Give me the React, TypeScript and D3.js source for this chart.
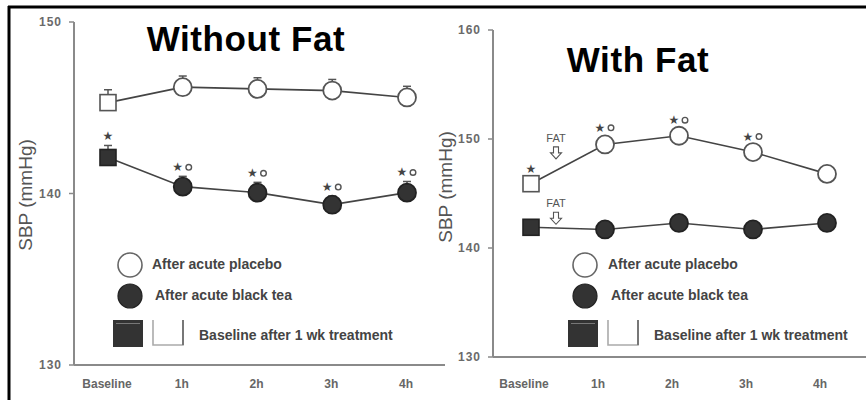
import React from "react";
import * as d3 from "d3";

const categories = ["Baseline", "1h", "2h", "3h", "4h"];

const noFatPlacebo = [145.3, 146.2, 146.1, 146.0, 145.6];
const noFatPlaceboErr = [0.75, 0.65, 0.65, 0.65, 0.65];
const noFatTea = [142.1, 140.4, 140.05, 139.35, 140.05];
const noFatTeaErr = [0.7, 0.6, 0.6, 0.5, 0.65];
const noFatTeaMarks = ["*", "*o", "*o", "*o", "*o"];
const noFatPlaceboMarks = ["", "", "", "", ""];
const noFatTicks = [130, 140, 150];

const fatPlacebo = [145.9, 149.5, 150.3, 148.8, 146.8];
const fatPlaceboErr = [0.5, 0.7, 0.6, 0.6, 0.4];
const fatPlaceboMarks = ["*", "*o", "*o", "*o", ""];
const fatTea = [141.9, 141.7, 142.3, 141.7, 142.3];
const fatTeaErr = [0.4, 0.4, 0.4, 0.4, 0.4];
const fatTeaMarks = ["", "", "", "", ""];
const fatTicks = [130, 140, 150, 160];

const legendLabels = ["After acute placebo", "After acute black tea", "Baseline after 1 wk treatment"];
const yTitle = "SBP (mmHg)";

const FONT = "'Liberation Sans', Arial, Helvetica, sans-serif";

type PanelProps = {
  title: string;
  titleX: number;
  titleY: number;
  axisX: number;
  axisTop: number;
  axisBottom: number;
  axisRight: number;
  xFirst: number;
  xLast: number;
  labelShift: number;
  domain: [number, number];
  ticks: number[];
  placebo: number[];
  placeboErr: number[];
  placeboMarks: string[];
  tea: number[];
  teaErr: number[];
  teaMarks: string[];
  yTitleX: number;
  yTitleY: number;
  legendX: number;
  legendTextX: number[];
  fat?: boolean;
};

function Marks({ x, y, mark }: { x: number; y: number; mark: string }) {
  if (!mark) return null;
  if (mark === "*") {
    return (
      <text x={x} y={y} textAnchor="middle" dominantBaseline="central" fontSize={12} fill="#444" fontFamily="'DejaVu Sans', sans-serif">★</text>
    );
  }
  return (
    <g>
      <text x={x - 5} y={y} textAnchor="middle" dominantBaseline="central" fontSize={12} fill="#444" fontFamily="'DejaVu Sans', sans-serif">★</text>
      <circle cx={x + 6} cy={y} r={2.8} fill="none" stroke="#555" strokeWidth={1.4} />
    </g>
  );
}

function FatArrow({ x, y }: { x: number; y: number }) {
  return (
    <g>
      <text x={x} y={y} textAnchor="middle" dominantBaseline="central" fontSize={11} fill="#555" fontFamily={FONT}>FAT</text>
      <path
        d={`M${x - 2.5},${y + 9} h5 v6 h3 l-5.5,6 l-5.5,-6 h3 z`}
        fill="white"
        stroke="#555"
        strokeWidth={1.1}
      />
    </g>
  );
}

function Panel(p: PanelProps) {
  const x = d3.scalePoint<string>().domain(categories).range([p.xFirst, p.xLast]);
  const y = d3.scaleLinear().domain(p.domain).range([p.axisBottom, p.axisTop]);
  const line = d3
    .line<number>()
    .x((_, i) => x(categories[i]) as number)
    .y((d) => y(d));

  const errBars = (vals: number[], errs: number[], key: string) =>
    vals.map((v, i) => {
      const cx = x(categories[i]) as number;
      const top = y(v + errs[i]);
      return (
        <g key={key + i}>
          <line x1={cx} x2={cx} y1={y(v)} y2={top} stroke="#555" strokeWidth={1.5} />
          <line x1={cx - 4} x2={cx + 4} y1={top} y2={top} stroke="#555" strokeWidth={1.5} />
        </g>
      );
    });

  const markers = (vals: number[], filled: boolean, key: string) =>
    vals.map((v, i) => {
      const cx = x(categories[i]) as number;
      const cy = y(v);
      if (i === 0) {
        return (
          <rect key={key + i} x={cx - 8} y={cy - 8} width={16} height={16}
            fill={filled ? "#333" : "white"} stroke={filled ? "#222" : "#555"} strokeWidth={1.6} />
        );
      }
      return (
        <circle key={key + i} cx={cx} cy={cy} r={9}
          fill={filled ? "#333" : "white"} stroke={filled ? "#222" : "#555"} strokeWidth={1.8} />
      );
    });

  const marks = (vals: number[], errs: number[], ms: string[], key: string) =>
    vals.map((v, i) => (
      <Marks key={key + i} x={x(categories[i]) as number} y={y(v + errs[i]) - 9} mark={ms[i]} />
    ));

  const lx = p.legendX;
  return (
    <g>
      <text x={p.titleX} y={p.titleY} textAnchor="middle" fontFamily={FONT} fontWeight="bold" fontSize={35} letterSpacing={0.6} fill="#000">{p.title}</text>
      {/* axes */}
      <line x1={p.axisX} x2={p.axisX} y1={p.axisTop} y2={p.axisBottom} stroke="#8a8a8a" strokeWidth={2} />
      <line x1={p.axisX} x2={p.axisRight} y1={p.axisBottom} y2={p.axisBottom} stroke="#8a8a8a" strokeWidth={2} />
      {p.ticks.map((t) => (
        <g key={"t" + t}>
          <line x1={p.axisX - 5} x2={p.axisX} y1={y(t)} y2={y(t)} stroke="#8a8a8a" strokeWidth={1.5} />
          <text x={p.axisX - 12} y={y(t)} textAnchor="end" dominantBaseline="central" fontFamily={FONT} fontWeight="bold" fontSize={12} letterSpacing={1} fill="#6a6a6a">{t}</text>
        </g>
      ))}
      {categories.map((c) => (
        <text key={"c" + c} x={(x(c) as number) + p.labelShift} y={384} textAnchor="middle" dominantBaseline="central" fontFamily={FONT} fontWeight="bold" fontSize={12} fill="#666">{c}</text>
      ))}
      <text transform={`translate(${p.yTitleX},${p.yTitleY}) rotate(-90)`} textAnchor="middle" dominantBaseline="central" fontFamily={FONT} fontSize={19} fill="#555">{yTitle}</text>

      {/* series */}
      <path d={line(p.placebo) || ""} fill="none" stroke="#444" strokeWidth={1.6} />
      <path d={line(p.tea) || ""} fill="none" stroke="#444" strokeWidth={1.6} />
      {errBars(p.placebo, p.placeboErr, "pe")}
      {errBars(p.tea, p.teaErr, "te")}
      {markers(p.placebo, false, "pm")}
      {markers(p.tea, true, "tm")}
      {marks(p.placebo, p.placeboErr, p.placeboMarks, "pk")}
      {marks(p.tea, p.teaErr, p.teaMarks, "tk")}

      {p.fat && (
        <g>
          <FatArrow x={(x(categories[0]) as number) + 25} y={y(150.1)} />
          <FatArrow x={(x(categories[0]) as number) + 25} y={y(144.1)} />
        </g>
      )}

      {/* legend */}
      <circle cx={lx} cy={265} r={12} fill="white" stroke="#666" strokeWidth={1.6} />
      <circle cx={lx} cy={296} r={12} fill="#333" stroke="#222" strokeWidth={1.2} />
      <rect x={lx - 17} y={320} width={30} height={27} fill="#333" />
      <line x1={lx - 14} x2={lx + 10} y1={323.5} y2={323.5} stroke="#777" strokeWidth={1} />
      <path d={`M${lx + 23},320 V345 H${lx + 53} V320`} fill="none" stroke="#aaa" strokeWidth={1.6} />
      <line x1={lx + 53} x2={lx + 53} y1={320} y2={345} stroke="#777" strokeWidth={2} />
      <text x={p.legendTextX[0]} y={264} dominantBaseline="central" fontFamily={FONT} fontWeight="bold" fontSize={14} fill="#444">{legendLabels[0]}</text>
      <text x={p.legendTextX[1]} y={295} dominantBaseline="central" fontFamily={FONT} fontWeight="bold" fontSize={14} fill="#444">{legendLabels[1]}</text>
      <text x={p.legendTextX[2]} y={335} dominantBaseline="central" fontFamily={FONT} fontWeight="bold" fontSize={14} fill="#444">{legendLabels[2]}</text>
    </g>
  );
}

export default function App() {
  return (
    <svg width={866} height={400} style={{ position: "absolute", left: 0, top: 0, background: "white" }}>
      <rect x={0} y={0} width={866} height={400} fill="white" />
      <Panel
        title="Without Fat"
        titleX={246}
        titleY={51}
        axisX={74}
        axisTop={22}
        axisBottom={365}
        axisRight={445}
        xFirst={108}
        xLast={407}
        labelShift={-1}
        domain={[130, 150]}
        ticks={noFatTicks}
        placebo={noFatPlacebo}
        placeboErr={noFatPlaceboErr}
        placeboMarks={noFatPlaceboMarks}
        tea={noFatTea}
        teaErr={noFatTeaErr}
        teaMarks={noFatTeaMarks}
        yTitleX={25}
        yTitleY={195}
        legendX={130}
        legendTextX={[152, 155, 199]}
      />
      <Panel
        title="With Fat"
        titleX={638}
        titleY={72}
        axisX={493}
        axisTop={30}
        axisBottom={357}
        axisRight={866}
        xFirst={531}
        xLast={827}
        labelShift={-7}
        domain={[130, 160]}
        ticks={fatTicks}
        placebo={fatPlacebo}
        placeboErr={fatPlaceboErr}
        placeboMarks={fatPlaceboMarks}
        tea={fatTea}
        teaErr={fatTeaErr}
        teaMarks={fatTeaMarks}
        yTitleX={445}
        yTitleY={187}
        legendX={585}
        legendTextX={[608, 611, 654]}
        fat
      />
      <line x1={8} x2={866} y1={7} y2={7} stroke="#000" strokeWidth={3} />
      <line x1={9} x2={9} y1={6} y2={400} stroke="#000" strokeWidth={3} />
    </svg>
  );
}
